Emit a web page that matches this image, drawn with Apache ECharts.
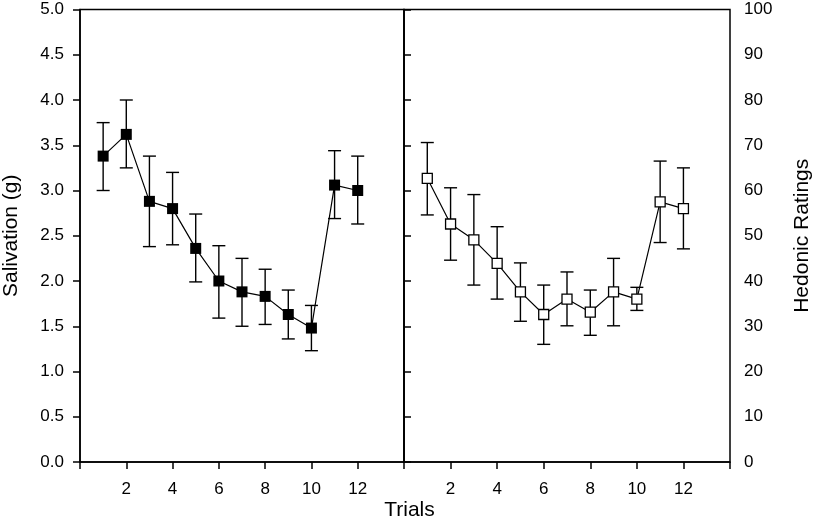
<!DOCTYPE html>
<html>
<head>
<meta charset="utf-8">
<script src="https://cdn.jsdelivr.net/npm/echarts@6/dist/echarts.min.js"></script>
<style>html,body{margin:0;padding:0;background:#fff}#c{width:819px;height:522px}</style>
</head>
<body>
<div id="c"></div>
<script>
// ---- data ----
var trials = [1,2,3,4,5,6,7,8,9,10,11,12];
var salivation = [3.38,3.62,2.88,2.80,2.36,2.00,1.88,1.83,1.63,1.48,3.06,3.00];
var salivationHigh = [3.75,4.00,3.38,3.20,2.74,2.39,2.25,2.13,1.90,1.73,3.44,3.38];
var salivationLow = [3.00,3.25,2.38,2.40,1.99,1.59,1.50,1.52,1.36,1.23,2.69,2.63];
var hedonic = [62.7,52.6,49.1,43.9,37.6,32.6,36.0,33.1,37.6,36.0,57.5,56.0];
var hedonicHigh = [70.6,60.6,59.1,52.0,44.0,39.1,42.0,38.0,45.0,38.6,66.5,65.0];
var hedonicLow = [54.6,44.6,39.1,36.0,31.1,26.0,30.1,28.0,30.1,33.5,48.5,47.1];
var xTickLabels = ['2','4','6','8','10','12'];
var salivationTicks = ['0.0','0.5','1.0','1.5','2.0','2.5','3.0','3.5','4.0','4.5','5.0'];
var hedonicTicks = ['0','10','20','30','40','50','60','70','80','90','100'];

var FONT = '"Liberation Sans", Arial, sans-serif';
var chart = echarts.init(document.getElementById('c'), null, {renderer:'canvas'});

function pairs(xs, ys){ return xs.map(function(x,i){ return [x, ys[i]]; }); }
function errData(xs, lo, hi){ return xs.map(function(x,i){ return [x, lo[i], hi[i]]; }); }
function renderErr(params, api){
  var x = api.value(0), lo = api.value(1), hi = api.value(2);
  var p1 = api.coord([x, hi]), p2 = api.coord([x, lo]);
  var w = 6.5, st = {stroke:'#000', lineWidth:1.4};
  return {type:'group', children:[
    {type:'line', shape:{x1:p1[0], y1:p1[1], x2:p2[0], y2:p2[1]}, style:st},
    {type:'line', shape:{x1:p1[0]-w, y1:p1[1], x2:p1[0]+w, y2:p1[1]}, style:st},
    {type:'line', shape:{x1:p2[0]-w, y1:p2[1], x2:p2[0]+w, y2:p2[1]}, style:st}
  ]};
}
function xLabel(v){
  var s = String(v);
  return xTickLabels.indexOf(s) >= 0 ? s : '';
}
var axisLineStyle = {color:'#000', width:1.5};
var xAxisBase = function(gi){
  return {
    type:'value', gridIndex:gi, min:0, max:14, interval:2,
    axisLine:{show:true, onZero:false, lineStyle:axisLineStyle},
    axisTick:{show:true, inside:false, length:7, lineStyle:axisLineStyle},
    axisLabel:{formatter:xLabel, color:'#000', fontSize:17, fontFamily:FONT, margin:19, showMinLabel:true, showMaxLabel:true},
    splitLine:{show:false}
  };
};

var option = {
  backgroundColor:'#fff',
  animation:false,
  grid:[
    {left:80, top:9.5, width:324, height:452.5, show:true, borderColor:'#000', borderWidth:1.5, backgroundColor:'transparent'},
    {left:404, top:9.5, width:326, height:452.5, show:true, borderColor:'#000', borderWidth:1.5, backgroundColor:'transparent'}
  ],
  xAxis:[xAxisBase(0), xAxisBase(1)],
  yAxis:[
    {type:'value', gridIndex:0, min:0, max:5, interval:0.5, position:'left',
     name:'Salivation (g)', nameLocation:'middle', nameGap:58, nameRotate:90,
     nameTextStyle:{color:'#000', fontSize:21, fontFamily:FONT},
     axisLine:{show:true, lineStyle:axisLineStyle},
     axisTick:{show:true, length:7, lineStyle:axisLineStyle},
     axisLabel:{color:'#000', fontSize:17, fontFamily:FONT, margin:16,
       formatter:function(v){ var i = Math.round(v/0.5); return salivationTicks[i] || ''; }},
     splitLine:{show:false}},
    {type:'value', gridIndex:1, min:0, max:100, interval:10, position:'right',
     name:'Hedonic Ratings', nameLocation:'middle', nameGap:62, nameRotate:90,
     nameTextStyle:{color:'#000', fontSize:21, fontFamily:FONT},
     axisLine:{show:true, lineStyle:axisLineStyle},
     axisTick:{show:true, length:7, lineStyle:axisLineStyle},
     axisLabel:{color:'#000', fontSize:17, fontFamily:FONT, margin:14,
       formatter:function(v){ var i = Math.round(v/10); return hedonicTicks[i] || ''; }},
     splitLine:{show:false}}
  ],
  graphic:[
    {type:'text', left:'center', top:500, style:{text:'Trials', fill:'#000', font:'21px ' + FONT}}
  ],
  series:[
    {type:'custom', xAxisIndex:0, yAxisIndex:0, renderItem:renderErr, data:errData(trials, salivationLow, salivationHigh), z:2, silent:true},
    {type:'line', xAxisIndex:0, yAxisIndex:0, data:pairs(trials, salivation), symbol:'rect', symbolSize:11,
     lineStyle:{color:'#000', width:1.2}, itemStyle:{color:'#000', borderColor:'#000', borderWidth:0}, z:3},
    {type:'custom', xAxisIndex:1, yAxisIndex:1, renderItem:renderErr, data:errData(trials, hedonicLow, hedonicHigh), z:2, silent:true},
    {type:'line', xAxisIndex:1, yAxisIndex:1, data:pairs(trials, hedonic), symbol:'rect', symbolSize:10,
     lineStyle:{color:'#000', width:1.2}, itemStyle:{color:'#fff', borderColor:'#000', borderWidth:1.3}, z:3}
  ]
};
chart.setOption(option);
</script>
</body>
</html>
